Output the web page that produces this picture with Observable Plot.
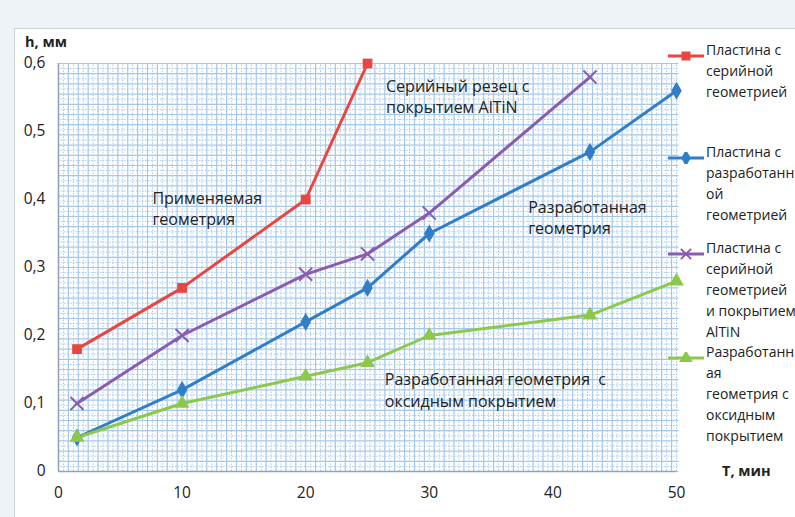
<!DOCTYPE html>
<html>
<head>
<meta charset="utf-8">
<script src="https://cdn.jsdelivr.net/npm/d3@7"></script>
<script src="https://cdn.jsdelivr.net/npm/@observablehq/plot@0.6"></script>
<style>
  html, body { margin: 0; padding: 0; }
  body { width: 795px; height: 517px; overflow: hidden; font-family: "Open Sans", sans-serif; }
  #wrap { position: relative; width: 795px; height: 517px; background: #eef3f8; overflow: hidden; }
  #panel { position: absolute; left: 14px; top: 28px; right: 0; bottom: 0; background: #fff; border-left: 1px solid #cdd3da; border-top: 1px solid #cdd3da; }
  #chart { position: absolute; left: 0; top: 0; }
  .axt { position: absolute; font-weight: 700; font-size: 14.5px; color: #222; white-space: nowrap; }
  .leg { position: absolute; left: 668px; white-space: nowrap; }
  .leg svg { position: absolute; left: 0; top: 2px; }
  .leg div { position: absolute; left: 38px; top: -9px; font-size: 14px; line-height: 21px; color: #222; }
</style>
</head>
<body>
<div id="wrap">
  <div id="panel"></div>
  <div id="chart"></div>
  <div class="axt" style="left:25px; top:32px;">h, мм</div>
  <div class="axt" style="left:722px; top:461px;">T, мин</div>
  <div id="legend"></div>
</div>
<script>
// ---- data ----
const timeMin = [1.5, 10, 20, 25, 30, 43, 50];
const hSerial = [0.18, 0.27, 0.40, 0.60];                        // Пластина с серийной геометрией
const hDeveloped = [0.05, 0.12, 0.22, 0.27, 0.35, 0.47, 0.56];   // Пластина с разработанной геометрией
const hSerialAlTiN = [0.10, 0.20, 0.29, 0.32, 0.38, 0.58];       // серийная + AlTiN
const hOxide = [0.05, 0.10, 0.14, 0.16, 0.20, 0.23, 0.28];       // разработанная + оксидное

const seriesNames = [
  "Пластина с серийной геометрией",
  "Пластина с разработанной геометрией",
  "Пластина с серийной геометрией и покрытием AlTiN",
  "Разработанная геометрия с оксидным покрытием"
];
const legendLabels = [
  ["Пластина с", "серийной", "геометрией"],
  ["Пластина с", "разработанн", "ой", "геометрией"],
  ["Пластина с", "серийной", "геометрией", "и покрытием", "AlTiN"],
  ["Разработанн", "ая", "геометрия с", "оксидным", "покрытием"]
];
const seriesColors = ["#e8463f", "#2f7ec7", "#8a5cb0", "#8cc84c"];
const seriesSymbols = ["square", "diamond", "times", "triangle"];

const xTicks = [0, 10, 20, 30, 40, 50];
const yTicks = [0, 0.1, 0.2, 0.3, 0.4, 0.5, 0.6];
const yTickLabels = ["0", "0,1", "0,2", "0,3", "0,4", "0,5", "0,6"];

const annotations = [
  {t: 26.5, h: 0.553, text: "Серийный резец с\nпокрытием AlTiN"},
  {t: 7.6, h: 0.388, text: "Применяемая\nгеометрия"},
  {t: 38.0, h: 0.375, text: "Разработанная\nгеометрия"},
  {t: 26.4, h: 0.121, text: "Разработанная геометрия  с\nоксидным покрытием"}
];

// ---- build tidy table ----
const allH = [hSerial, hDeveloped, hSerialAlTiN, hOxide];
const rows = [];
allH.forEach((arr, si) => arr.forEach((h, i) => rows.push({series: seriesNames[si], t: timeMin[i], h})));

// graph-paper grid
const gx = 0.8, gy = 0.015;
const gridXs = d3.range(0, 50.2, gx);
const gridXd = d3.range(gx / 2, 50.2, gx);
const gridYs = d3.range(0, 0.6001, gy);
const gridYd = d3.range(gy / 2, 0.6, gy);
const gridColor = "#a4c8ec";

const colorScale = {domain: seriesNames, range: seriesColors};

const chart = Plot.plot({
  width: 795,
  height: 517,
  marginLeft: 58,
  marginRight: 119,
  marginTop: 63,
  marginBottom: 46,
  style: {background: "transparent", fontFamily: "Open Sans, sans-serif", fontSize: "15.5px", color: "#222"},
  x: {domain: [0, 50]},
  y: {domain: [0, 0.6]},
  color: colorScale,
  symbol: {domain: seriesNames, range: seriesSymbols},
  marks: [
    Plot.ruleX(gridXd, {stroke: gridColor, strokeWidth: 1, strokeDasharray: "1.5,1.5", y1: 0, y2: 0.6}),
    Plot.ruleY(gridYd, {stroke: gridColor, strokeWidth: 1, strokeDasharray: "1.5,1.5", x1: 0, x2: 50.2}),
    Plot.ruleX(gridXs, {stroke: gridColor, strokeWidth: 1.2, y1: 0, y2: 0.6}),
    Plot.ruleY(gridYs, {stroke: gridColor, strokeWidth: 1.2, x1: 0, x2: 50.2}),
    Plot.ruleY([0], {stroke: "#8fa3bb", strokeWidth: 1.5}),
    Plot.ruleX([0], {stroke: "#8fa3bb", strokeWidth: 1.5}),
    Plot.axisX(xTicks, {tickSize: 0, tickPadding: 15, label: null, fontSize: 15.5}),
    Plot.axisY(yTicks, {tickSize: 0, tickPadding: 13, label: null, fontSize: 15.5, tickFormat: d => yTickLabels[yTicks.indexOf(d)]}),
    Plot.line(rows, {x: "t", y: "h", z: "series", stroke: "series", strokeWidth: 3}),
    Plot.dot(rows.filter(d => d.series !== seriesNames[2]), {x: "t", y: "h", fill: "series", symbol: "series", r: 5.5, stroke: "none"}),
    Plot.dot(rows.filter(d => d.series === seriesNames[2]), {x: "t", y: "h", stroke: "series", symbol: "series", r: 6, strokeWidth: 2}),
    Plot.text(annotations, {x: "t", y: "h", text: "text", textAnchor: "start", lineAnchor: "middle", lineHeight: 1.36, fontSize: 16, fill: "#222"})
  ]
});
document.getElementById("chart").appendChild(chart);

// ---- legend (HTML, right side) ----
const legendTops = [54, 156, 252, 356];
const legend = document.getElementById("legend");
seriesNames.forEach((name, i) => {
  const el = document.createElement("div");
  el.className = "leg";
  el.style.top = (legendTops[i] - 6) + "px";
  const svg = d3.create("svg").attr("width", 38).attr("height", 12);
  svg.append("line").attr("x1", 0).attr("x2", 36).attr("y1", 6).attr("y2", 6)
    .attr("stroke", seriesColors[i]).attr("stroke-width", 3);
  const sym = {square: d3.symbolSquare, diamond: d3.symbolDiamond, times: d3.symbolTimes, triangle: d3.symbolTriangle}[seriesSymbols[i]];
  const p = svg.append("path").attr("transform", "translate(18,6)")
    .attr("d", d3.symbol(sym, seriesSymbols[i] === "times" ? 70 : 80)());
  if (seriesSymbols[i] === "times") p.attr("fill", "none").attr("stroke", seriesColors[i]).attr("stroke-width", 2);
  else p.attr("fill", seriesColors[i]);
  el.appendChild(svg.node());
  const txt = document.createElement("div");
  txt.innerHTML = legendLabels[i].join("<br>");
  el.appendChild(txt);
  legend.appendChild(el);
});
</script>
</body>
</html>
